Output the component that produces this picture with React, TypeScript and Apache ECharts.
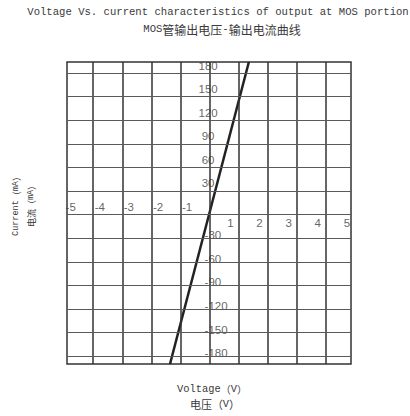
import React, { useEffect, useRef } from "react";
import * as echarts from "echarts";

// Axis extents (borders of the plotting box)
const voltageMin = -4.9;
const voltageMax = 4.86;
const currentMin = -190;
const currentMax = 194;

// Grid lines
const voltageGridLines = [-4, -3, -2, -1, 0, 1, 2, 3, 4];
const currentGridLines = [-180, -150, -120, -90, -60, -30, 0, 30, 60, 90, 120, 150, 180];

// Tick labels
const negVoltageTicks = [-5, -4, -3, -2, -1];
const posVoltageTicks = [1, 2, 3, 4, 5];
const posCurrentTicks = [30, 60, 90, 120, 150, 180];
const negCurrentTicks = [-30, -60, -90, -120, -150, -180];

// Output characteristic (straight line through origin)
const curveVoltage = [-1.36, 1.35];
const curveCurrent = [-190, 194];

const titleEn = "Voltage Vs. current characteristics of output at MOS portion";
const MONO = "'Liberation Mono', 'DejaVu Sans Mono', monospace";
const CJK = "'Noto Sans CJK SC', sans-serif";
const SANS = "'Liberation Sans', Arial, sans-serif";
const TXT = "#3a3a3a";

export default function App() {
  const ref = useRef<HTMLDivElement>(null);

  useEffect(() => {
    if (!ref.current) return;
    const chart = echarts.init(ref.current, null, { renderer: "svg" });

    const labelSeries = (
      data: number[][],
      text: (d: number[]) => string,
      align: string,
      offset: number[]
    ) => ({
      type: "scatter",
      data,
      symbolSize: 1,
      clip: false,
      silent: true,
      z: 4,
      color: TXT,
      itemStyle: { color: "rgba(0,0,0,0)" },
      label: {
        show: true,
        position: "inside",
        align,
        verticalAlign: "middle",
        offset,
        formatter: (p: any) => text(p.value),
        fontFamily: SANS,
        fontSize: 11.5,
        color: TXT,
        textBorderWidth: 0,
      },
    });

    const mono = (size: number) => ({ fontFamily: MONO, fontSize: size, fill: TXT, color: TXT });
    const cjk = (size: number) => ({ fontFamily: CJK, fontSize: size, fill: TXT, color: TXT });

    const option: any = {
      animation: false,
      color: [TXT],
      grid: {
        left: 67,
        top: 62,
        width: 284,
        height: 302,
        show: true,
        borderColor: "#333",
        borderWidth: 1.5,
        backgroundColor: "transparent",
      },
      xAxis: {
        type: "value",
        min: voltageMin,
        max: voltageMax,
        axisLine: { show: false },
        axisTick: { show: false },
        axisLabel: { show: false },
        splitLine: { show: false },
      },
      yAxis: {
        type: "value",
        min: currentMin,
        max: currentMax,
        axisLine: { show: false },
        axisTick: { show: false },
        axisLabel: { show: false },
        splitLine: { show: false },
      },
      graphic: [
        {
          type: "text",
          x: 218,
          y: 12,
          style: {
            text: titleEn,
            font: `10.6px ${MONO}`,
            fill: TXT,
            align: "center",
            verticalAlign: "middle",
          },
        },
        {
          type: "text",
          x: 222,
          y: 29,
          style: {
            text: "{m|MOS}{c|管输出电压}{m|-}{c|输出电流曲线}",
            align: "center",
            verticalAlign: "middle",
            fill: TXT,
            rich: { m: mono(10.6), c: cjk(12) },
          },
        },
        {
          type: "text",
          x: 212,
          y: 389,
          style: {
            text: "{m|Voltage}{c|（}{m|V}{c|）}",
            align: "center",
            verticalAlign: "middle",
            fill: TXT,
            rich: { m: mono(10.4), c: cjk(10) },
          },
        },
        {
          type: "text",
          x: 215,
          y: 404,
          style: {
            text: "{c|电压（}{m|V}{c|）}",
            align: "center",
            verticalAlign: "middle",
            fill: TXT,
            rich: { m: mono(10.4), c: cjk(11) },
          },
        },
        {
          type: "text",
          x: 16,
          y: 204,
          rotation: Math.PI / 2,
          style: {
            text: "{m|Current}{c|（}{m|mA}{c|）}",
            align: "center",
            verticalAlign: "middle",
            fill: TXT,
            rich: { m: mono(8.5), c: cjk(9) },
          },
        },
        {
          type: "text",
          x: 31,
          y: 204,
          rotation: Math.PI / 2,
          style: {
            text: "{c|电流（}{m|mA}{c|）}",
            align: "center",
            verticalAlign: "middle",
            fill: TXT,
            rich: { m: mono(8.5), c: cjk(9) },
          },
        },
      ],
      series: [
        {
          type: "line",
          data: [],
          silent: true,
          z: 1,
          markLine: {
            silent: true,
            symbol: ["none", "none"],
            label: { show: false },
            animation: false,
            data: [
              ...voltageGridLines.map((v) => ({
                xAxis: v,
                lineStyle: { color: "#333", width: 1.5, type: "solid" },
              })),
              ...currentGridLines.map((v) => ({
                yAxis: v,
                lineStyle: { color: "#5a5a5a", width: 1.2, type: "solid" },
              })),
            ],
          },
        },
        {
          type: "line",
          data: curveVoltage.map((v, i) => [v, curveCurrent[i]]),
          symbol: "none",
          silent: true,
          z: 3,
          lineStyle: { color: "#222", width: 2.5 },
        },
        labelSeries(
          negVoltageTicks.map((v) => [v, 0]),
          (d) => String(d[0]),
          "left",
          [1.5, -8]
        ),
        labelSeries(
          posVoltageTicks.map((v) => [v, 0]),
          (d) => String(d[0]),
          "right",
          [-5, 8]
        ),
        labelSeries(
          posCurrentTicks.map((v) => [0, v]),
          (d) => String(d[1]),
          "center",
          [-1.5, -7.5]
        ),
        labelSeries(
          negCurrentTicks.map((v) => [0, v]),
          (d) => String(d[1]),
          "left",
          [-5, -3]
        ),
      ],
    };

    chart.setOption(option);
    return () => chart.dispose();
  }, []);

  return (
    <div
      ref={ref}
      style={{ position: "fixed", left: 0, top: 0, width: 410, height: 416, background: "#fff" }}
    />
  );
}
